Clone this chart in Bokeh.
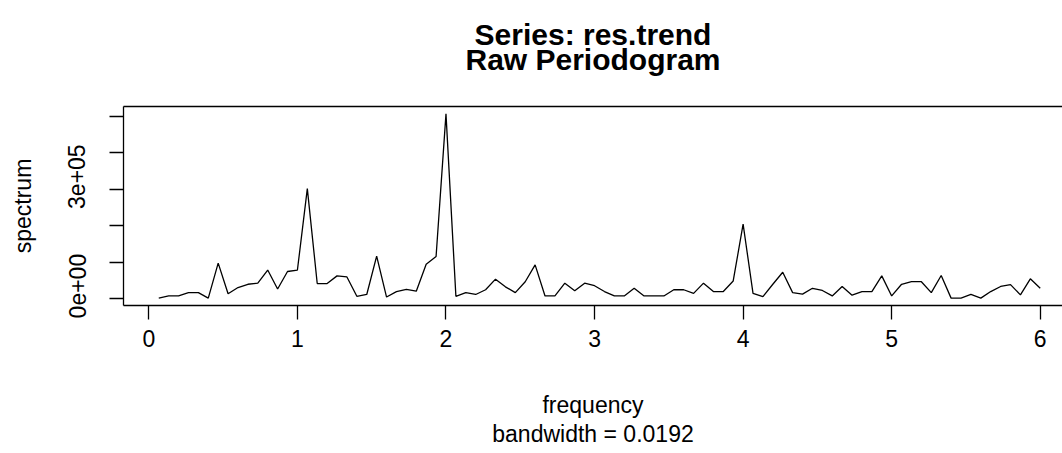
from bokeh.plotting import figure
from bokeh.models import Range1d, FixedTicker, CustomJSTickFormatter, LinearAxis, Title
from bokeh.embed import file_html
from bokeh.resources import INLINE

# ---- data -------------------------------------------------------------
frequency = [k / 15 for k in range(1, 91)]  # Fourier frequencies (step 1/15)
spectrum = [
    2000, 8000, 8000, 17000, 17000, 2000, 98000, 14000, 31000, 40000,
    43000, 79000, 27000, 75000, 79000, 302000, 42000, 42000, 63000, 60000,
    7000, 12000, 117000, 5000, 20000, 26000, 21000, 95000, 116000, 507000,
    7000, 17000, 12000, 25000, 54000, 33000, 17000, 47000, 93000, 8000,
    8000, 43000, 22000, 43000, 36000, 20000, 8000, 8000, 29000, 8000,
    8000, 8000, 25000, 25000, 15000, 43000, 20000, 20000, 49000, 205000,
    15000, 6000, 40000, 73000, 17000, 13000, 29000, 23000, 8000, 34000,
    10000, 20000, 20000, 63000, 8000, 40000, 47000, 47000, 17000, 64000,
    2000, 2000, 12000, 2000, 20000, 34000, 39000, 11000, 55000, 29000,
]
x_ticks = [0, 1, 2, 3, 4, 5, 6]
y_ticks = [0, 100000, 200000, 300000, 400000, 500000]
y_label_ticks = [0, 300000]
y_label_texts = ["0e+00", "3e+05"]
title_line1 = "Series: res.trend"
title_line2 = "Raw Periodogram"
x_label = "frequency"
sub_label = "bandwidth = 0.0192"
y_label = "spectrum"

# ---- layout / style ---------------------------------------------------
W, H = 1062, 453
LEFT, TOP, BOTTOM = 123, 106, 148
R_BOX_W = 952          # width of the full (cropped) R plot box in px
FONT = "Liberation Sans"
FS = "23px"
TFS = "30px"
LW = 1.3
Y_LABEL_PAD = 4        # no-break spaces that nudge rotated y labels upward

xmin, xmax = min(frequency), max(frequency)
dx = (xmax - xmin) * 0.04
x0, x1_full = xmin - dx, xmax + dx
frame_w = W - LEFT
x1 = x0 + (x1_full - x0) * frame_w / R_BOX_W
ymin, ymax = min(spectrum), max(spectrum)
dy = (ymax - ymin) * 0.04

p = figure(
    width=W, height=H, title=None,
    x_range=Range1d(x0, x1), y_range=Range1d(ymin - dy, ymax + dy),
    output_backend="svg", toolbar_location=None,
    min_border_left=LEFT, min_border_right=0,
    min_border_top=TOP, min_border_bottom=BOTTOM,
    background_fill_color="white", border_fill_color="white",
    outline_line_color=None,
)
p.grid.visible = False

p.line(frequency, spectrum, line_color="black", line_width=LW)

# x axis
xa = p.xaxis[0]
xa.ticker = FixedTicker(ticks=x_ticks)
xa.major_label_text_font = FONT
xa.major_label_text_font_size = FS
xa.major_label_text_color = "black"
xa.major_tick_out = 14
xa.major_tick_in = 0
xa.minor_tick_line_color = None
xa.axis_line_color = "black"
xa.axis_line_width = LW
xa.major_tick_line_width = LW
xa.major_tick_line_color = "black"
xa.major_label_standoff = 10
xa.axis_label = x_label
xa.axis_label_text_font = FONT
xa.axis_label_text_font_size = FS
xa.axis_label_text_font_style = "normal"
xa.axis_label_text_color = "black"
xa.axis_label_standoff = 42

# y axis
ya = p.yaxis[0]
ya.ticker = FixedTicker(ticks=y_ticks)
ya.formatter = CustomJSTickFormatter(
    args=dict(vals=y_label_ticks, txt=y_label_texts, pad=Y_LABEL_PAD),
    code="""
for (let i = 0; i < vals.length; i++) {
  if (Math.abs(tick - vals[i]) < 1) { return "\\u00a0".repeat(pad) + txt[i]; }
}
return "";
""")
ya.major_label_orientation = "vertical"
ya.major_label_text_font = FONT
ya.major_label_text_font_size = FS
ya.major_label_text_color = "black"
ya.major_tick_out = 14
ya.major_tick_in = 0
ya.minor_tick_line_color = None
ya.axis_line_color = "black"
ya.axis_line_width = LW
ya.major_tick_line_width = LW
ya.major_tick_line_color = "black"
ya.major_label_standoff = 19
ya.axis_label = y_label
ya.axis_label_text_font = FONT
ya.axis_label_text_font_size = FS
ya.axis_label_text_font_style = "normal"
ya.axis_label_text_color = "black"
ya.axis_label_standoff = 26

# top edge of the box, carrying the second title line
top_axis = LinearAxis(
    ticker=FixedTicker(ticks=[]),
    major_tick_line_color=None, minor_tick_line_color=None,
    major_tick_out=0, major_tick_in=0, major_label_standoff=0,
    major_label_text_font_size="0px",
    axis_line_color="black", axis_line_width=LW,
    axis_label=title_line2, axis_label_text_font=FONT,
    axis_label_text_font_size=TFS, axis_label_text_font_style="bold",
    axis_label_text_color="black", axis_label_standoff=31,
)
p.add_layout(top_axis, "above")

p.add_layout(Title(text=title_line1, align="center", vertical_align="bottom",
                   text_font=FONT, text_font_size=TFS, text_font_style="bold",
                   text_color="black", standoff=-23), "above")

p.add_layout(Title(text=sub_label, align="center", vertical_align="top",
                   text_font=FONT, text_font_size=FS, text_font_style="normal",
                   text_color="black", standoff=0), "below")

open("out.html", "w").write(file_html(p, INLINE))
